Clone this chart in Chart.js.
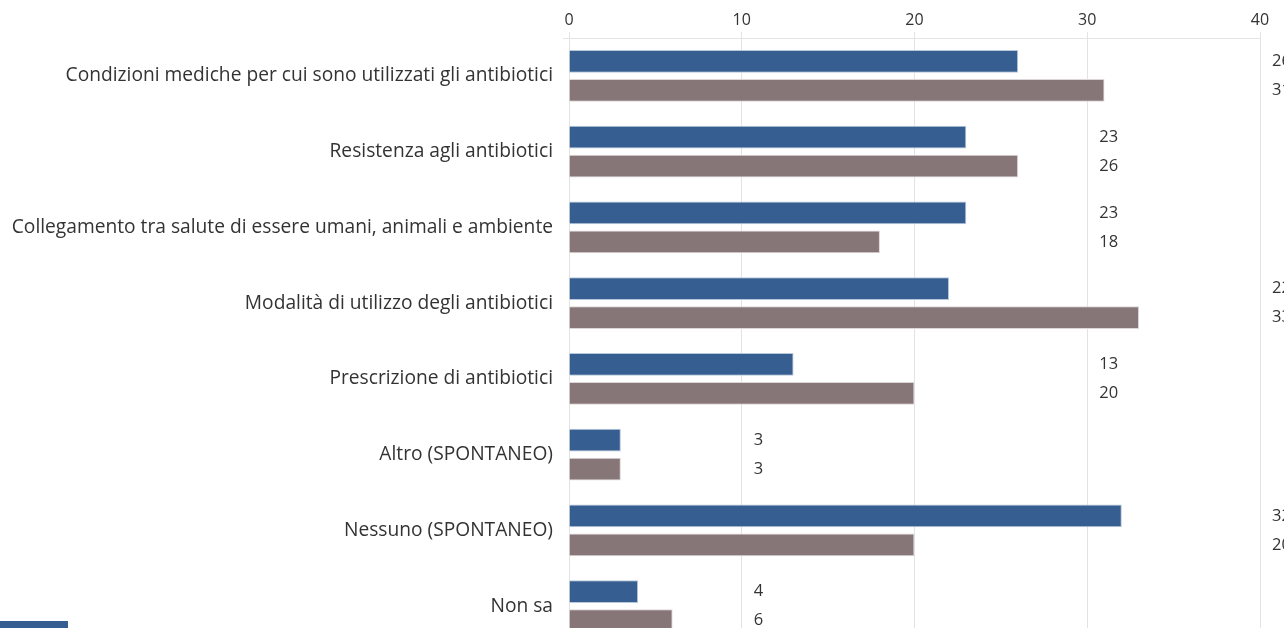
<!DOCTYPE html>
<html lang="it">
<head>
<meta charset="utf-8">
<script src="https://cdn.jsdelivr.net/npm/chart.js@4/dist/chart.umd.min.js"></script>
<style>
    html, body { margin: 0; padding: 0; background: #ffffff; overflow: hidden; }
    #wrap { position: relative; width: 1284px; height: 680px; }
    #legend { position: absolute; left: 0; top: 621px; font: 15px 'Open Sans', sans-serif; color: #333; }
    #legend .sw { width: 68px; height: 16px; background: #365e91; }
    #legend .lab { margin-top: 6px; }
</style>
</head>
<body>
<div id="wrap">
    <canvas id="chart"></canvas>
    <div id="legend"><div class="sw"></div><div class="lab">2023</div></div>
</div>
<script>
// Data
const categories = [
    'Condizioni mediche per cui sono utilizzati gli antibiotici',
    'Resistenza agli antibiotici',
    'Collegamento tra salute di essere umani, animali e ambiente',
    'Modalità di utilizzo degli antibiotici',
    'Prescrizione di antibiotici',
    'Altro (SPONTANEO)',
    'Nessuno (SPONTANEO)',
    'Non sa'
];
const seriesNames = ['2023', '2021'];
const seriesA = [26, 23, 23, 22, 13, 3, 32, 4];
const seriesB = [31, 26, 18, 33, 20, 3, 20, 6];
const xTicks = [0, 10, 20, 30, 40];

const COLORS = {
    blue: '#365e91',
    blueEdge: '#b9c7da',
    brown: '#877678',
    brownEdge: '#ddd6d6',
    grid: '#e3e3e3',
    text: '#333333'
};
const FONT = "'Open Sans', 'Noto Sans', sans-serif";

// value labels sit just past the next gridline after the longest bar of the group
const valueLabels = {
    id: 'valueLabels',
    afterDatasetsDraw(chart) {
        const ctx = chart.ctx;
        const x = chart.scales.x;
        ctx.save();
        ctx.font = '16.5px ' + FONT;
        ctx.fillStyle = COLORS.text;
        ctx.textAlign = 'left';
        ctx.textBaseline = 'middle';
        categories.forEach((c, i) => {
            const top = Math.max(seriesA[i], seriesB[i]);
            const tick = Math.floor(top / 10 + 1) * 10;
            const px = x.getPixelForValue(tick) + 12;
            chart.data.datasets.forEach((ds, d) => {
                const bar = chart.getDatasetMeta(d).data[i];
                ctx.fillText(String(ds.data[i]), px, bar.y);
            });
        });
        ctx.restore();
    }
};

new Chart(document.getElementById('chart'), {
    type: 'bar',
    data: {
        labels: categories,
        datasets: [
            {
                label: seriesNames[0],
                data: seriesA,
                backgroundColor: COLORS.blue,
                borderColor: COLORS.blueEdge,
                borderWidth: 1,
                categoryPercentage: 0.763,
                barPercentage: 0.79
            },
            {
                label: seriesNames[1],
                data: seriesB,
                backgroundColor: COLORS.brown,
                borderColor: COLORS.brownEdge,
                borderWidth: 1,
                categoryPercentage: 0.763,
                barPercentage: 0.79
            }
        ]
    },
    options: {
        indexAxis: 'y',
        responsive: true,
        maintainAspectRatio: false,
        animation: false,
        layout: { padding: { top: 0, right: 24, bottom: 36, left: 0 } },
        plugins: {
            legend: { display: false },
            tooltip: { enabled: false }
        },
        scales: {
            x: {
                position: 'top',
                min: 0,
                max: 40,
                afterBuildTicks(scale) {
                    scale.ticks = xTicks.map(v => ({ value: v }));
                },
                afterFit(scale) { scale.height = 38; },
                grid: { color: COLORS.grid, tickLength: 6 },
                border: { display: false },
                ticks: {
                    padding: 2,
                    color: COLORS.text,
                    font: { family: FONT, size: 16 }
                }
            },
            y: {
                afterFit(scale) { scale.width = 569; },
                grid: {
                    offset: true,
                    tickLength: 6,
                    color: (c) => c.index === 0 ? COLORS.grid : 'rgba(0,0,0,0)'
                },
                border: { display: false },
                ticks: {
                    padding: 10,
                    color: COLORS.text,
                    font: { family: FONT, size: 19.2 }
                }
            }
        }
    },
    plugins: [valueLabels]
});
</script>
</body>
</html>
